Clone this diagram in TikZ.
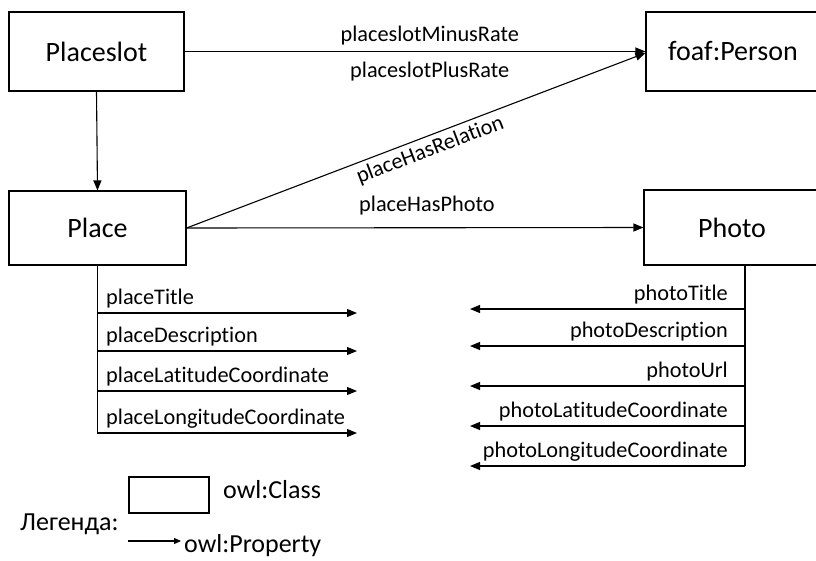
\documentclass[tikz,border=0pt]{standalone}
\usepackage{fontspec}
\setmainfont{Carlito}[Ligatures=NoCommon]
\usetikzlibrary{arrows.meta}

\tikzset{
  classbox/.style={draw, line width=1.1pt, rectangle, inner sep=0pt,
    font=\fontsize{28}{32}\selectfont},
  prop/.style={line width=1.1pt, -{Triangle[length=10pt,width=8pt]}},
  trunk/.style={line width=1.1pt},
  lbl/.style={inner sep=0pt, font=\fontsize{22.3}{26}\selectfont},
  leglbl/.style={inner sep=0pt, font=\fontsize{26}{30}\selectfont},
}

\begin{document}
\begin{tikzpicture}[x=1pt, y=-1pt]
  \useasboundingbox (0,0) rectangle (816,560);
  \clip (0,0) rectangle (816,560);

  % classes
  \node[classbox, minimum width=175pt, minimum height=79pt] (placeslot) at (96.5,51.5) {Placeslot};
  \node[classbox, minimum width=177pt, minimum height=74pt] (place) at (97.5,228) {Place};
  \node[classbox, minimum width=174pt, minimum height=79pt] (foaf) at (733,51.5) {foaf:Person};
  \node[classbox, minimum width=176pt, minimum height=75pt] (photo) at (732,227.5) {Photo};

  % object properties
  \draw[prop] (placeslot.east) --
    node[lbl, pos=0.532, anchor=base, yshift=10pt] {placeslotMinusRate}
    node[lbl, pos=0.532, anchor=base, yshift=-26pt] {placeslotPlusRate}
    (foaf.west);
  \draw[prop] (placeslot.south) -- (place.north);
  \draw[prop] (place.east) --
    node[lbl, pos=0.52, sloped, below=4pt] {placeHasRelation}
    ([yshift=-1.5pt]foaf.west);
  \draw[prop] (place.east) --
    node[lbl, pos=0.526, anchor=base, yshift=16pt] {placeHasPhoto}
    (photo.west);

  % data properties of Place
  \coordinate (ptrunk) at (97.5,433);
  \draw[trunk] (place.south) -- (ptrunk);
  \foreach \y/\name [count=\i] in {313/placeTitle, 351/placeDescription,
      391/placeLatitudeCoordinate, 433/placeLongitudeCoordinate} {
    \coordinate (ps\i) at (97,\y);
    \coordinate (pe\i) at (357,\y);
    \draw[prop] (ps\i) -- (pe\i);
    \node[lbl, anchor=base west] (pl\i) at (106,\y-9) {\name};
  }

  % data properties of Photo
  \coordinate (ftop) at ([xshift=13pt]photo.south);
  \coordinate (fbot) at (745,466);
  \draw[trunk] (ftop) -- (fbot);
  \foreach \y/\name [count=\i] in {309/photoTitle, 346/photoDescription,
      386/photoUrl, 426/photoLatitudeCoordinate, 466/photoLongitudeCoordinate} {
    \coordinate (fs\i) at (745,\y);
    \coordinate (fe\i) at (470,\y);
    \draw[prop] (fs\i) -- (fe\i);
    \node[lbl, anchor=base east] (fl\i) at (728,\y-9) {\name};
  }

  % legend
  \node[leglbl, anchor=base west] (legend) at (20,530) {Легенда:};
  \node[draw, line width=1.1pt, minimum width=80pt, minimum height=36pt, inner sep=0pt] (legbox) at (169,495) {};
  \node[leglbl, anchor=base west] (legclass) at (223,498) {owl:Class};
  \coordinate (la) at (128,541);
  \coordinate (lb) at (181,541);
  \draw[line width=1.1pt, -{Triangle[length=7pt,width=6pt]}] (la) -- (lb);
  \node[leglbl, anchor=base west] (legprop) at (184,552) {owl:Property};
\end{tikzpicture}
\end{document}
